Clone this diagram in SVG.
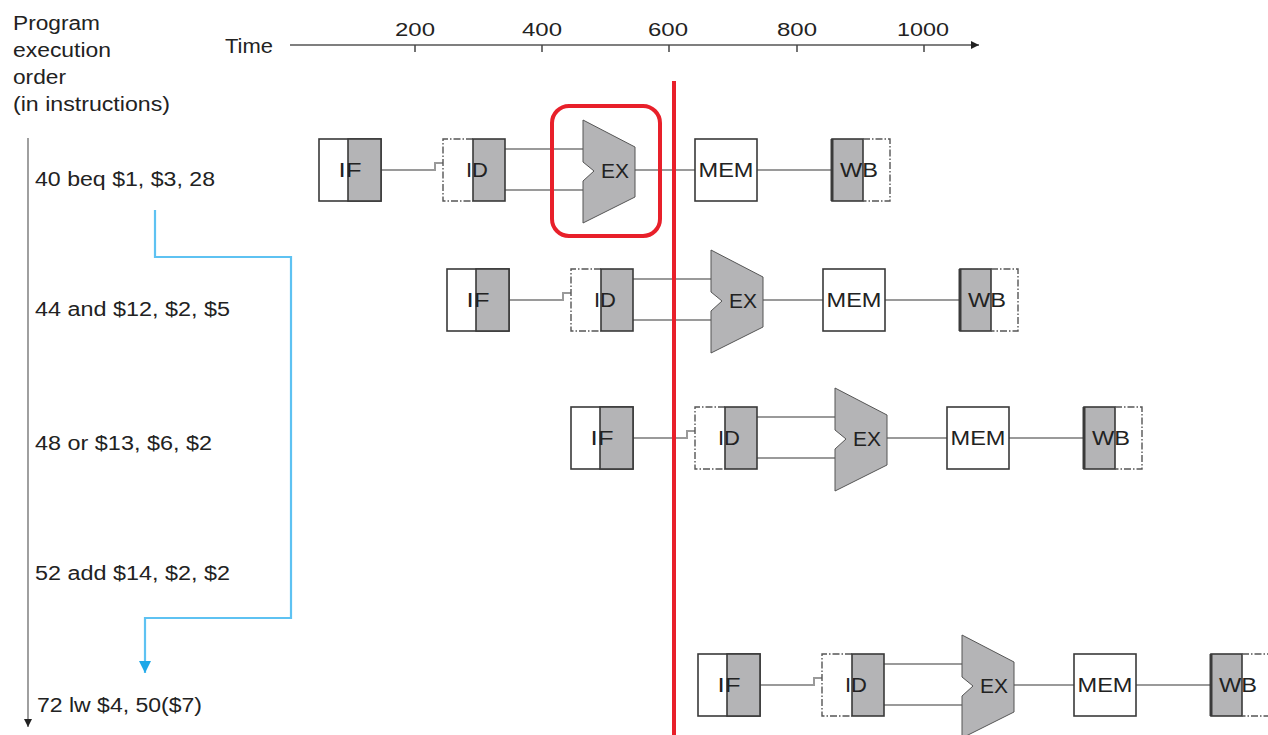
<svg xmlns="http://www.w3.org/2000/svg" width="1268" height="735" viewBox="0 0 1268 735">
<style>
text{font-family:"Liberation Sans",Arial,sans-serif;fill:#222}
.lbl{font-size:20px}
.st{font-size:20px;text-anchor:middle}
.num{font-size:19px;text-anchor:middle}
.box{fill:#fff;stroke:#3a3a3a;stroke-width:1.6}
.half{fill:#b4b4b6;stroke:#3a3a3a;stroke-width:1.6}
.dash{fill:none;stroke:#555;stroke-width:1.4;stroke-dasharray:7,2,1.5,2}
.ex{fill:#b4b4b6;stroke:#555;stroke-width:1}
.wire{fill:none;stroke:#9a9a9a;stroke-width:2}
.thick{stroke:#3a3a3a;stroke-width:3}
</style>
<defs>
<marker id="ah" viewBox="0 0 10 10" refX="10" refY="5" markerWidth="8" markerHeight="8" markerUnits="userSpaceOnUse" orient="auto"><path d="M0,0 L10,5 L0,10 z" fill="#222"/></marker>
<marker id="ab" viewBox="0 0 10 10" refX="10" refY="5" markerWidth="18" markerHeight="12" markerUnits="userSpaceOnUse" orient="auto"><path d="M0,0 L10,5 L0,10 z" fill="#1ea8e8"/></marker>
</defs>

<g id="header">
<text class="lbl" x="13" y="30" textLength="87" lengthAdjust="spacingAndGlyphs">Program</text>
<text class="lbl" x="13" y="57" textLength="98" lengthAdjust="spacingAndGlyphs">execution</text>
<text class="lbl" x="13" y="84" textLength="53" lengthAdjust="spacingAndGlyphs">order</text>
<text class="lbl" x="13" y="111" textLength="157" lengthAdjust="spacingAndGlyphs">(in instructions)</text>
</g>

<g id="time-axis">
<text class="lbl" x="225" y="53" textLength="48" lengthAdjust="spacingAndGlyphs">Time</text>
<line x1="290" y1="45" x2="979" y2="45" stroke="#555" stroke-width="1.5" marker-end="url(#ah)"/>
<g stroke="#444" stroke-width="1.5">
<line x1="415" y1="45" x2="415" y2="52"/><line x1="542" y1="45" x2="542" y2="52"/><line x1="669" y1="45" x2="669" y2="52"/><line x1="797" y1="45" x2="797" y2="52"/><line x1="924" y1="45" x2="924" y2="52"/>
</g>
<text class="num" x="415" y="36" textLength="40" lengthAdjust="spacingAndGlyphs">200</text>
<text class="num" x="542" y="36" textLength="40" lengthAdjust="spacingAndGlyphs">400</text>
<text class="num" x="668" y="36" textLength="40" lengthAdjust="spacingAndGlyphs">600</text>
<text class="num" x="797" y="36" textLength="40" lengthAdjust="spacingAndGlyphs">800</text>
<text class="num" x="923" y="36" textLength="52" lengthAdjust="spacingAndGlyphs">1000</text>
</g>

<g id="order-axis">
<line x1="28" y1="138" x2="28" y2="727" stroke="#888" stroke-width="1.6" marker-end="url(#ah)"/>
</g>

<g id="instructions">
<text class="lbl" x="35" y="186" textLength="180" lengthAdjust="spacingAndGlyphs">40 beq $1, $3, 28</text>
<text class="lbl" x="35" y="316" textLength="195" lengthAdjust="spacingAndGlyphs">44 and $12, $2, $5</text>
<text class="lbl" x="35" y="450" textLength="177" lengthAdjust="spacingAndGlyphs">48 or $13, $6, $2</text>
<text class="lbl" x="35" y="580" textLength="195" lengthAdjust="spacingAndGlyphs">52 add $14, $2, $2</text>
<text class="lbl" x="37" y="712" textLength="165" lengthAdjust="spacingAndGlyphs">72 lw $4, 50($7)</text>
</g>

<g id="connectors">
<path class="wire" d="M381,170 H435 V163 H443"/>
<path class="wire" d="M505,149 H583 M505,190 H583"/>
<path class="wire" d="M635,170 H695 M757,170 H832"/>
<path class="wire" d="M509,300 H563 V293 H571"/>
<path class="wire" d="M633,279 H711 M633,320 H711"/>
<path class="wire" d="M763,300 H823 M885,300 H960"/>
<path class="wire" d="M633,438 H687 V431 H695"/>
<path class="wire" d="M757,417 H835 M757,458 H835"/>
<path class="wire" d="M887,438 H947 M1009,438 H1084"/>
<path class="wire" d="M760,685 H814 V678 H822"/>
<path class="wire" d="M884,664 H962 M884,705 H962"/>
<path class="wire" d="M1014,685 H1074 M1136,685 H1211"/>
<path id="branch" d="M155,210 V257 H291 V618 H145 V673" fill="none" stroke="#5ec2f2" stroke-width="2.2" marker-end="url(#ab)"/>
</g>

<!-- Row 1 -->
<g id="r1-IF"><rect class="box" x="319" y="139" width="62" height="62"/><rect class="half" x="348" y="139" width="33" height="62"/><text class="st" x="350" y="177" textLength="23" lengthAdjust="spacingAndGlyphs">IF</text></g>
<g id="r1-ID"><path class="dash" d="M473,139 H443 V201 H473"/><rect class="half" x="473" y="139" width="32" height="62"/><text class="st" x="477" y="177" textLength="22" lengthAdjust="spacingAndGlyphs">ID</text></g>
<g id="r1-EX"><polygon class="ex" points="583,120 635,147 635,197 583,223 583,181 594,171 583,162"/><text class="st" x="615" y="178" textLength="28" lengthAdjust="spacingAndGlyphs">EX</text></g>
<g id="r1-MEM"><rect class="box" x="695" y="139" width="62" height="62"/><text class="st" x="726" y="177" textLength="55" lengthAdjust="spacingAndGlyphs">MEM</text></g>
<g id="r1-WB"><rect class="half" x="832" y="139" width="31" height="62"/><line class="thick" x1="832" y1="139" x2="832" y2="201"/><path class="dash" d="M863,139 H890 V201 H863"/><text class="st" x="859" y="177" textLength="38" lengthAdjust="spacingAndGlyphs">WB</text></g>

<!-- Row 2 -->
<g id="r2-IF"><rect class="box" x="447" y="269" width="62" height="62"/><rect class="half" x="476" y="269" width="33" height="62"/><text class="st" x="478" y="307" textLength="23" lengthAdjust="spacingAndGlyphs">IF</text></g>
<g id="r2-ID"><path class="dash" d="M601,269 H571 V331 H601"/><rect class="half" x="601" y="269" width="32" height="62"/><text class="st" x="605" y="307" textLength="22" lengthAdjust="spacingAndGlyphs">ID</text></g>
<g id="r2-EX"><polygon class="ex" points="711,250 763,277 763,327 711,353 711,311 722,301 711,292"/><text class="st" x="743" y="308" textLength="28" lengthAdjust="spacingAndGlyphs">EX</text></g>
<g id="r2-MEM"><rect class="box" x="823" y="269" width="62" height="62"/><text class="st" x="854" y="307" textLength="55" lengthAdjust="spacingAndGlyphs">MEM</text></g>
<g id="r2-WB"><rect class="half" x="960" y="269" width="31" height="62"/><line class="thick" x1="960" y1="269" x2="960" y2="331"/><path class="dash" d="M991,269 H1018 V331 H991"/><text class="st" x="987" y="307" textLength="38" lengthAdjust="spacingAndGlyphs">WB</text></g>

<!-- Row 3 -->
<g id="r3-IF"><rect class="box" x="571" y="407" width="62" height="62"/><rect class="half" x="600" y="407" width="33" height="62"/><text class="st" x="602" y="445" textLength="23" lengthAdjust="spacingAndGlyphs">IF</text></g>
<g id="r3-ID"><path class="dash" d="M725,407 H695 V469 H725"/><rect class="half" x="725" y="407" width="32" height="62"/><text class="st" x="729" y="445" textLength="22" lengthAdjust="spacingAndGlyphs">ID</text></g>
<g id="r3-EX"><polygon class="ex" points="835,388 887,415 887,465 835,491 835,449 846,439 835,430"/><text class="st" x="867" y="446" textLength="28" lengthAdjust="spacingAndGlyphs">EX</text></g>
<g id="r3-MEM"><rect class="box" x="947" y="407" width="62" height="62"/><text class="st" x="978" y="445" textLength="55" lengthAdjust="spacingAndGlyphs">MEM</text></g>
<g id="r3-WB"><rect class="half" x="1084" y="407" width="31" height="62"/><line class="thick" x1="1084" y1="407" x2="1084" y2="469"/><path class="dash" d="M1115,407 H1142 V469 H1115"/><text class="st" x="1111" y="445" textLength="38" lengthAdjust="spacingAndGlyphs">WB</text></g>

<!-- Row 4 -->
<g id="r4-IF"><rect class="box" x="698" y="654" width="62" height="62"/><rect class="half" x="727" y="654" width="33" height="62"/><text class="st" x="729" y="692" textLength="23" lengthAdjust="spacingAndGlyphs">IF</text></g>
<g id="r4-ID"><path class="dash" d="M852,654 H822 V716 H852"/><rect class="half" x="852" y="654" width="32" height="62"/><text class="st" x="856" y="692" textLength="22" lengthAdjust="spacingAndGlyphs">ID</text></g>
<g id="r4-EX"><polygon class="ex" points="962,635 1014,662 1014,712 962,738 962,696 973,686 962,677"/><text class="st" x="994" y="693" textLength="28" lengthAdjust="spacingAndGlyphs">EX</text></g>
<g id="r4-MEM"><rect class="box" x="1074" y="654" width="62" height="62"/><text class="st" x="1105" y="692" textLength="55" lengthAdjust="spacingAndGlyphs">MEM</text></g>
<g id="r4-WB"><rect class="half" x="1211" y="654" width="31" height="62"/><line class="thick" x1="1211" y1="654" x2="1211" y2="716"/><path class="dash" d="M1242,654 H1269 V716 H1242"/><text class="st" x="1238" y="692" textLength="38" lengthAdjust="spacingAndGlyphs">WB</text></g>

<g id="highlight">
<rect x="552" y="106" width="108" height="130" rx="17" fill="none" stroke="#e8202a" stroke-width="4"/>
<line x1="674" y1="81" x2="674" y2="735" stroke="#e8202a" stroke-width="4"/>
</g>
</svg>
